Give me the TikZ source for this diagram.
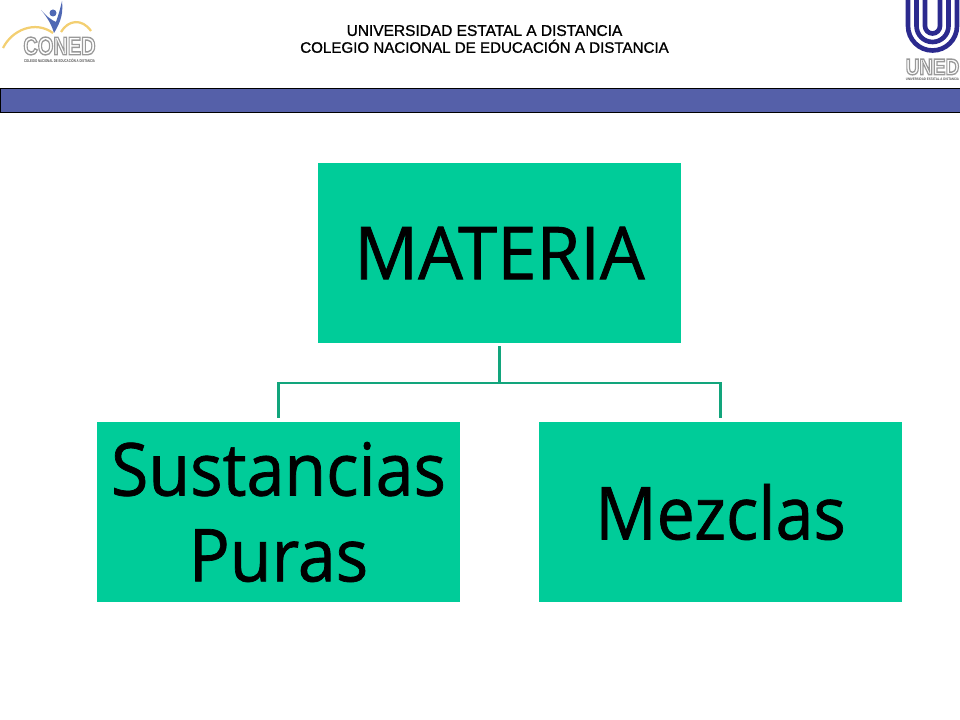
\documentclass[tikz,border=0pt]{standalone}
\usepackage{fontspec}
\setmainfont{Liberation Sans}
\newfontfamily\boxfont[FakeStretch=0.93]{Open Sans}
\definecolor{boxgreen}{HTML}{00CC99}
\definecolor{linegreen}{HTML}{12A57C}
\definecolor{bandblue}{HTML}{5560A9}
\definecolor{unedblue}{HTML}{2B2A8E}
\definecolor{conedblue}{HTML}{4F68B4}
\definecolor{swoosh}{HTML}{F3CF72}
\definecolor{logogray}{HTML}{8C8C8C}
\newcommand{\outlined}[1]{\special{pdf:code 1 Tr 1 w 0.6 G}#1\special{pdf:code 0 Tr 0 G}}
\newcommand{\heavier}[2][0.12]{\special{pdf:code 2 Tr #1 w 0 G}#2\special{pdf:code 0 Tr}}
\tikzset{
	greenbox/.style={fill=boxgreen, minimum width=363*0.025cm, minimum height=180*0.025cm,
		align=center, font=\boxfont\fontsize{52}{61}\selectfont, inner sep=0pt},
	branch/.style={draw=linegreen, line width=2.1pt, shorten >=4*0.025cm, shorten <=3*0.025cm},
	uring/.style={draw=unedblue, line width=3.3pt},
	logotext/.style={inner sep=0pt, font=\bfseries\fontsize{18}{18}\selectfont, text=white},
	logosub/.style={inner sep=0pt, font=\bfseries\fontsize{2.9}{3}\selectfont, text=logogray!60!black}
}
\begin{document}
\begin{tikzpicture}[x=0.025cm, y=-0.025cm]
\useasboundingbox (0,0) rectangle (960,720);

% header
\node (title) at (484.5,39) [align=center] {\fontsize{11}{13.2}\selectfont\heavier{UNIVERSIDAD ESTATAL A DISTANCIA}\\\fontsize{10.75}{13.2}\selectfont\heavier{COLEGIO NACIONAL DE EDUCACIÓN A DISTANCIA}};
\draw[fill=bandblue, line width=0.7pt] (0.5,88.5) rectangle (962,112);

% coned logo
\draw[swoosh, line width=1.6pt] (3,48) .. controls (12,30) and (35,20) .. (53,33);
\draw[swoosh, line width=1.6pt] (61,32) .. controls (68,20) and (82,18) .. (91,31);
\fill[conedblue] (41,10) .. controls (48,18) and (52,20) .. (56,22) .. controls (58,16) and (60,10) .. (62,1)
	.. controls (63,12) and (62,20) .. (54,33) .. controls (52,26) and (48,18) .. (41,10);
\fill[conedblue] (53,13) circle (3.5);
\node[logotext] (coned) at (59.5,46) {\scalebox{0.79}[1]{\outlined{CONED}}};
\node[logosub] (conedsub) at (59.5,61) {\scalebox{0.7}[1]{COLEGIO NACIONAL DE EDUCACIÓN A DISTANCIA}};

% uned logo
\draw[uring] (908,0) -- (908,26) arc (180:0:24.5) -- (957,0);
\draw[uring] (916.5,0) -- (916.5,26) arc (180:0:16) -- (948.5,0);
\draw[uring] (925,0) -- (925,26) arc (180:0:7.5) -- (940,0);
\node[logotext, font=\bfseries\fontsize{16}{16}\selectfont] (uned) at (932.5,67) {\scalebox{0.84}[1]{\outlined{UNED}}};
\node[logosub, font=\bfseries\fontsize{2.5}{3}\selectfont] (unedsub) at (932.5,79.5) {\scalebox{0.83}[1]{UNIVERSIDAD ESTATAL A DISTANCIA}};

% boxes
\node[greenbox] (materia) at (499.5,253) {\scalebox{1.04}[1]{\heavier[0.5]{MATERIA}}};
\node[greenbox] (sustancias) at (278.5,512) {\heavier[0.5]{Sustancias}\\\heavier[0.5]{Puras}};
\node[greenbox] (mezclas) at (720.5,512) {\heavier[0.5]{Mezclas}};

\coordinate (fork) at (499.5,383);
\draw[branch] (materia.south) -- (fork) -| (sustancias.north);
\draw[branch] (materia.south) -- (fork) -| (mezclas.north);
\end{tikzpicture}
\end{document}
